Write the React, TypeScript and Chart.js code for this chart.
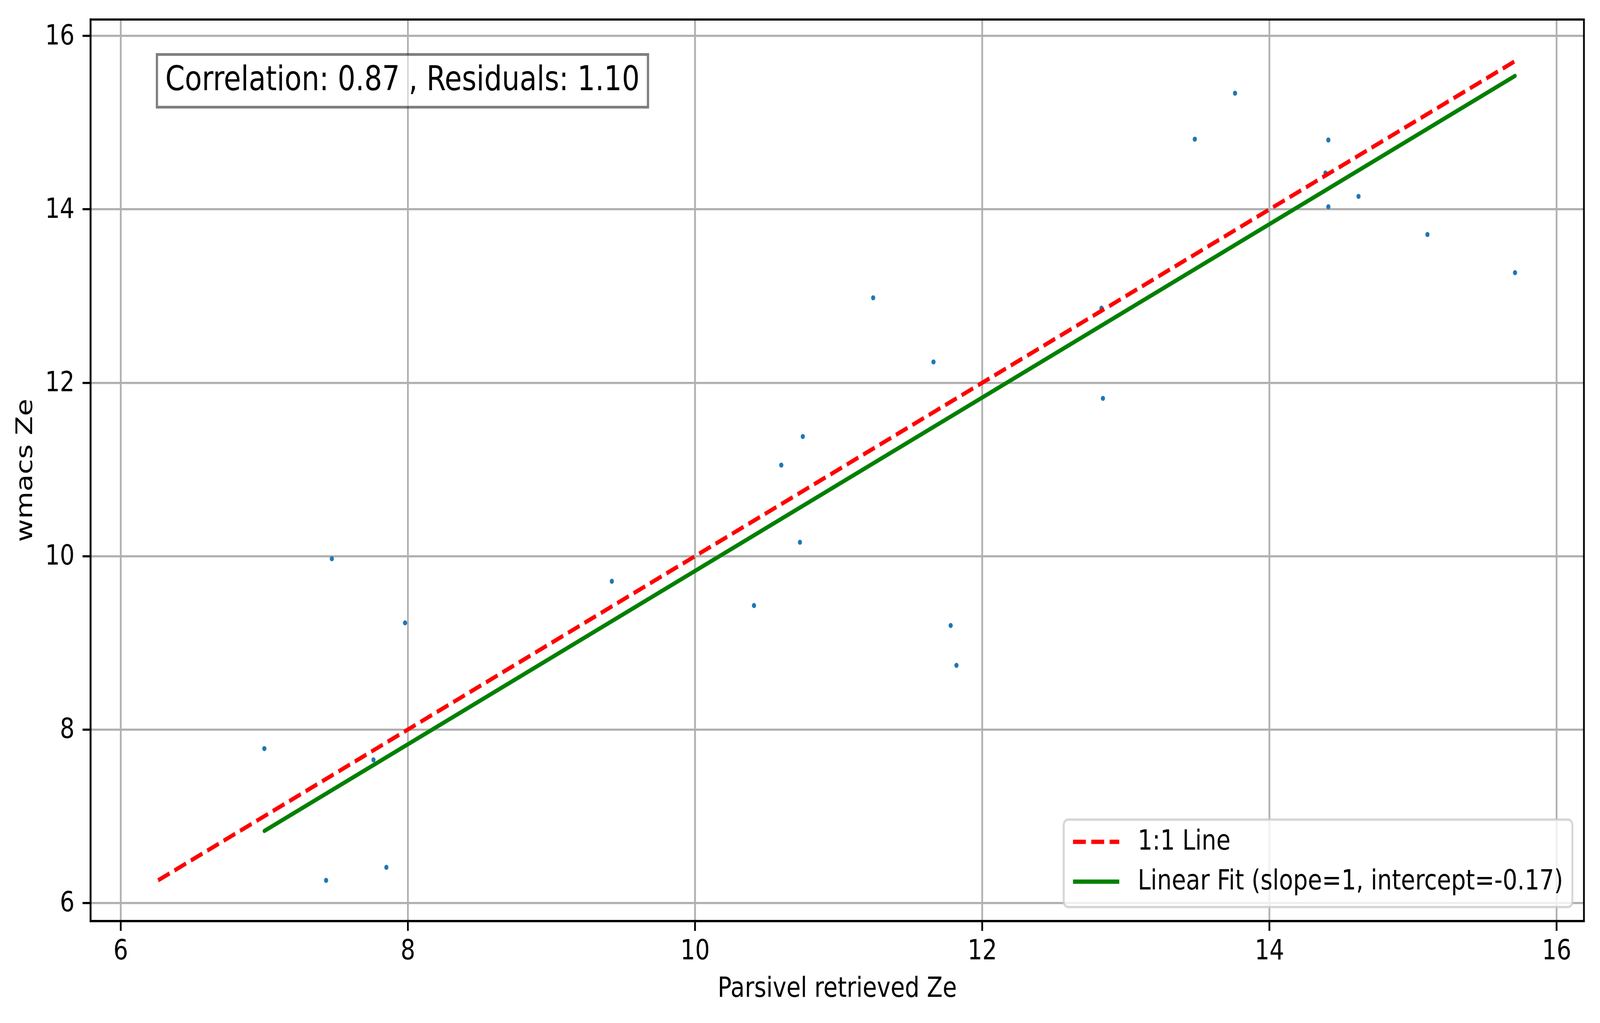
import React, { useEffect, useRef } from "react";
import { Chart, registerables } from "chart.js";

Chart.register(...registerables);

// ---- data ----
const parsivelZe = [7.0, 7.47, 7.98, 7.76, 7.43, 7.85, 9.42, 10.41, 10.73, 11.78, 11.82, 10.6, 10.75, 11.24, 11.66, 12.84, 12.83, 13.48, 13.76, 14.41, 14.39, 14.41, 14.62, 15.1, 15.71];
const wmacsZe = [7.78, 9.97, 9.23, 7.65, 6.26, 6.41, 9.71, 9.43, 10.16, 9.2, 8.74, 11.05, 11.38, 12.98, 12.24, 11.82, 12.86, 14.81, 15.34, 14.8, 14.42, 14.03, 14.15, 13.71, 13.27];

const oneToOneX = [6.26, 15.71];
const oneToOneY = [6.26, 15.71];
const fitX = [7.0, 15.71];
const fitY = [6.83, 15.54];

const xTicks = [6, 8, 10, 12, 14, 16];
const yTicks = [6, 8, 10, 12, 14, 16];
const xRange = [5.79, 16.19];
const yRange = [5.79, 16.19];

const xTitle = "Parsivel retrieved Ze";
const yTitle = "wmacs Ze";
const oneToOneLabel = "1:1 Line";
const fitLabel = "Linear Fit (slope=1, intercept=-0.17)";
const annotationText = "Correlation: 0.87 , Residuals: 1.10";

// logical drawing size (that of the reference picture)
const BASE_W = 4981;
const BASE_H = 2620;
const FAMILY = "'DejaVu Sans', sans-serif";

function roundRectPath(ctx: CanvasRenderingContext2D, x: number, y: number, w: number, h: number, r: number) {
  ctx.beginPath();
  ctx.moveTo(x + r, y);
  ctx.lineTo(x + w - r, y);
  ctx.arcTo(x + w, y, x + w, y + r, r);
  ctx.lineTo(x + w, y + h - r);
  ctx.arcTo(x + w, y + h, x + w - r, y + h, r);
  ctx.lineTo(x + r, y + h);
  ctx.arcTo(x, y + h, x, y + h - r, r);
  ctx.lineTo(x, y + r);
  ctx.arcTo(x, y, x + r, y, r);
  ctx.closePath();
}

const framePlugin = {
  id: "framePlugin",
  afterDraw(chart: any) {
    const ctx: CanvasRenderingContext2D = chart.ctx;
    const a = chart.chartArea;
    const W = a.right - a.left;
    const H = a.bottom - a.top;
    ctx.save();

    // annotation box (axes fraction 0.05, 0.95)
    ctx.font = `87px ${FAMILY}`;
    const tx = a.left + 0.05 * W;
    const tTop = a.top + 0.05 * H;
    const tw = ctx.measureText(annotationText).width;
    const pad = 26;
    ctx.beginPath();
    ctx.rect(tx - pad, tTop - pad, tw + 2 * pad, 83 + 2 * pad);
    ctx.fillStyle = "rgba(255,255,255,0.5)";
    ctx.fill();
    ctx.lineWidth = 7;
    ctx.strokeStyle = "rgba(0,0,0,0.5)";
    ctx.stroke();
    ctx.fillStyle = "#000";
    ctx.textAlign = "left";
    ctx.textBaseline = "alphabetic";
    ctx.fillText(annotationText, tx, tTop + 66);

    // legend (lower right)
    const fs = 72;
    ctx.font = `${fs}px ${FAMILY}`;
    const items = chart.data.datasets.filter((d: any) => d.label);
    const bp = 0.4 * fs, hl = 2 * fs, htp = 0.8 * fs, bap = 0.5 * fs;
    const maxW = Math.max(...items.map((d: any) => ctx.measureText(d.label).width));
    const bw = bp + hl + htp + maxW + bp;
    const bh = 224;
    const bx = a.right - bap - bw;
    const by = a.bottom - bap - bh;
    roundRectPath(ctx, bx, by, bw, bh, 14);
    ctx.fillStyle = "rgba(255,255,255,0.8)";
    ctx.fill();
    ctx.lineWidth = 6;
    ctx.strokeStyle = "rgba(204,204,204,0.8)";
    ctx.stroke();
    items.forEach((d: any, i: number) => {
      const y = by + 57 + i * 102;
      ctx.beginPath();
      ctx.setLineDash(d.borderDash || []);
      ctx.lineCap = "butt";
      ctx.lineWidth = d.borderWidth;
      ctx.strokeStyle = d.borderColor;
      ctx.moveTo(bx + bp, y);
      ctx.lineTo(bx + bp + hl, y);
      ctx.stroke();
      ctx.setLineDash([]);
      ctx.fillStyle = "#000";
      ctx.textBaseline = "middle";
      ctx.textAlign = "left";
      ctx.fillText(d.label, bx + bp + hl + htp, y + 1);
    });

    // spines
    ctx.setLineDash([]);
    ctx.lineWidth = 5.5;
    ctx.strokeStyle = "#000";
    ctx.strokeRect(a.left, a.top, W, H);
    ctx.restore();
  },
};

export default function App() {
  const ref = useRef<HTMLCanvasElement>(null);
  const vw = (typeof window !== "undefined" && window.innerWidth) || BASE_W;
  const vh = (typeof window !== "undefined" && window.innerHeight) || BASE_H;

  useEffect(() => {
    document.documentElement.style.margin = "0";
    document.documentElement.style.overflow = "hidden";
    document.body.style.margin = "0";
    document.body.style.overflow = "hidden";
    const canvas = ref.current;
    if (!canvas) return;

    const points = parsivelZe.map((x, i) => ({ x, y: wmacsZe[i] }));
    const oneToOne = oneToOneX.map((x, i) => ({ x, y: oneToOneY[i] }));
    const fit = fitX.map((x, i) => ({ x, y: fitY[i] }));

    const tickFont = { family: FAMILY, size: 72, lineHeight: 1.2 };
    const gridOpts = {
      color: "#b0b0b0",
      lineWidth: 5.5,
      tickColor: "#000",
      tickLength: 25,
      tickWidth: 5.5,
      drawTicks: true,
    };
    const zeroPad = (s: any) => {
      s.paddingLeft = 0;
      s.paddingRight = 0;
      s.paddingTop = 0;
      s.paddingBottom = 0;
    };

    const chart = new Chart(canvas, {
      type: "scatter",
      data: {
        datasets: [
          {
            data: points,
            backgroundColor: "#1f77b4",
            borderWidth: 0,
            pointRadius: 6.5,
            pointHoverRadius: 6.5,
            showLine: false,
            order: 3,
          } as any,
          {
            label: oneToOneLabel,
            data: oneToOne,
            showLine: true,
            borderColor: "#ff0000",
            borderWidth: 10.8,
            borderDash: [40, 17],
            borderCapStyle: "butt",
            pointRadius: 0,
            fill: false,
            order: 2,
          } as any,
          {
            label: fitLabel,
            data: fit,
            showLine: true,
            borderColor: "#008000",
            borderWidth: 10.8,
            borderCapStyle: "round",
            pointRadius: 0,
            fill: false,
            order: 1,
          } as any,
        ],
      },
      options: {
        responsive: false,
        animation: false,
        devicePixelRatio: 1,
        events: [],
        layout: { padding: { left: 0, top: 50, right: 50, bottom: 0 } },
        plugins: {
          legend: { display: false },
          tooltip: { enabled: false },
          title: { display: false },
        },
        scales: {
          x: {
            type: "linear",
            position: "bottom",
            min: xRange[0],
            max: xRange[1],
            afterBuildTicks: (s: any) => {
              s.ticks = xTicks.map((v) => ({ value: v }));
            },
            afterFit: (s: any) => {
              s.height = 261;
              zeroPad(s);
            },
            ticks: {
              font: tickFont,
              color: "#000",
              padding: 11,
              maxRotation: 0,
              autoSkip: false,
              callback: (v: any) => String(v),
            },
            grid: gridOpts,
            border: { display: true, color: "#000", width: 5.5 },
            title: {
              display: true,
              text: xTitle,
              color: "#000",
              font: tickFont,
              padding: { top: 0, bottom: 43 },
            },
          } as any,
          y: {
            type: "linear",
            position: "left",
            min: yRange[0],
            max: yRange[1],
            afterBuildTicks: (s: any) => {
              s.ticks = yTicks.map((v) => ({ value: v }));
            },
            afterFit: (s: any) => {
              s.width = 282;
              zeroPad(s);
            },
            ticks: {
              font: tickFont,
              color: "#000",
              padding: 25,
              labelOffset: 3,
              autoSkip: false,
              callback: (v: any) => String(v),
            },
            grid: gridOpts,
            border: { display: true, color: "#000", width: 5.5 },
            title: {
              display: true,
              text: yTitle,
              color: "#000",
              font: tickFont,
              padding: { top: 38, bottom: 0 },
            },
          } as any,
        },
      },
      plugins: [framePlugin],
    } as any);

    return () => chart.destroy();
  }, []);

  return (
    <div style={{ width: vw, height: vh, background: "#ffffff", overflow: "hidden" }}>
      <canvas
        ref={ref}
        width={BASE_W}
        height={BASE_H}
        style={{ display: "block", width: vw + "px", height: vh + "px" }}
      />
    </div>
  );
}
